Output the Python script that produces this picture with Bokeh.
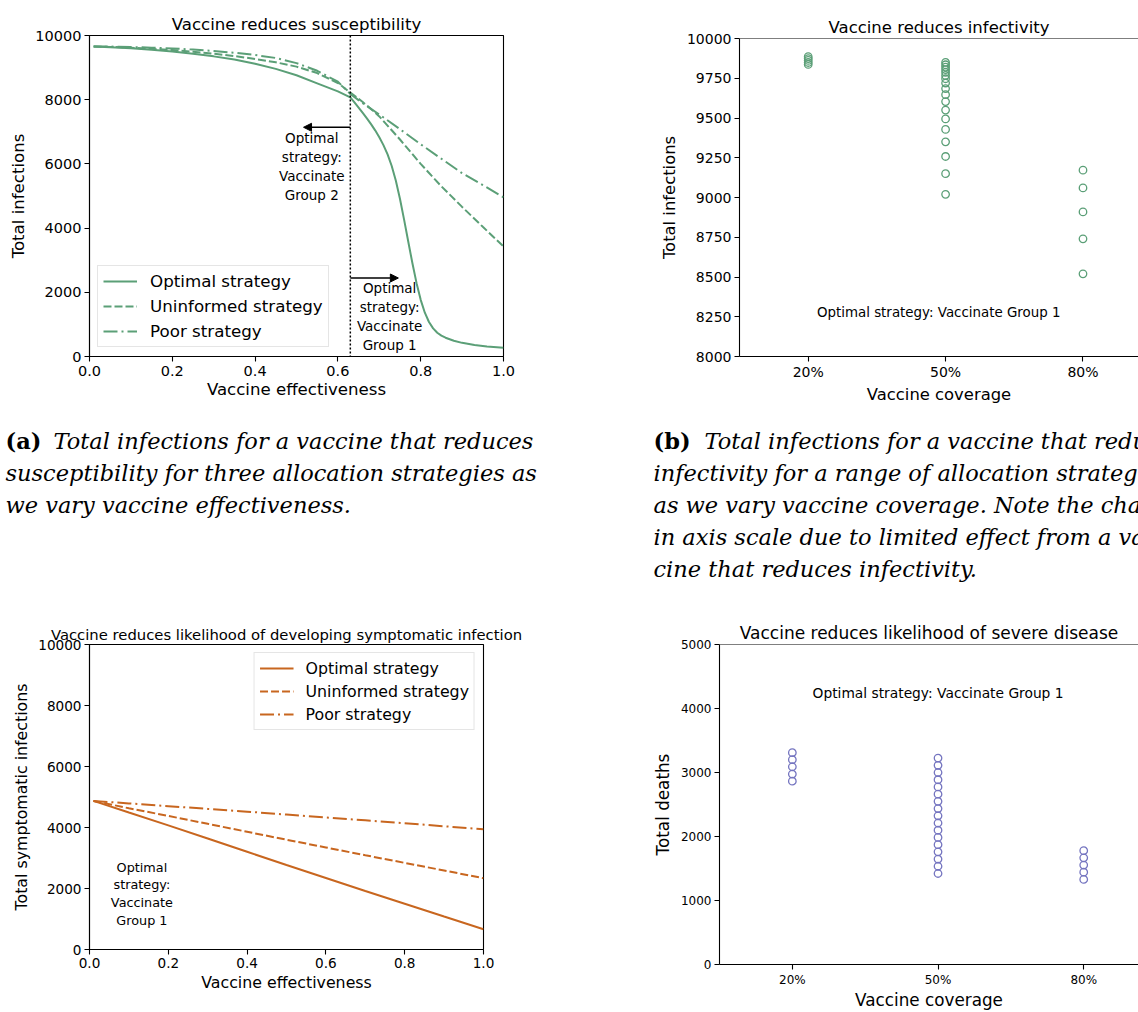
from bokeh.plotting import figure
from bokeh.layouts import column, row
from bokeh.models import Range1d, FixedTicker, Span, Arrow, NormalHead, Title
from bokeh.core.properties import value
from bokeh.embed import file_html
from bokeh.resources import INLINE

FONT = "DejaVu Sans"
SERIF = "DejaVu Serif"
GREEN = "#5b9f77"
ORANGE = "#c8661f"
PURPLE = "#7575c0"

# ---------------- data ----------------
# (a) vaccine reduces susceptibility
eff_opt_a = [0.01, 0.05, 0.1, 0.15, 0.2, 0.25, 0.3, 0.35, 0.4, 0.45, 0.5, 0.55, 0.6, 0.63,
             0.64, 0.65, 0.66, 0.67, 0.68, 0.69, 0.7, 0.71, 0.72, 0.73, 0.74, 0.75, 0.76,
             0.77, 0.78, 0.79, 0.8, 0.81, 0.82, 0.83, 0.84, 0.85, 0.86, 0.88, 0.9, 0.93,
             0.96, 1.0]
opt_a = [9660, 9635, 9600, 9555, 9500, 9430, 9350, 9250, 9120, 8960, 8760, 8510, 8260, 8070,
         7915, 7755, 7590, 7420, 7240, 7045, 6830, 6585, 6295, 5935, 5475, 4905, 4255,
         3575, 2905, 2285, 1765, 1365, 1075, 875, 740, 650, 585, 490, 425, 360,
         315, 275]
eff_alt_a = [0.01, 0.05, 0.1, 0.15, 0.2, 0.25, 0.3, 0.35, 0.4, 0.45, 0.5, 0.55, 0.6, 0.63,
             0.66, 0.7, 0.75, 0.8, 0.85, 0.9, 0.95, 1.0]
uni_a = [9660, 9645, 9620, 9585, 9545, 9495, 9435, 9360, 9270, 9165, 9030, 8830, 8520, 8220,
         7930, 7480, 6760, 6000, 5300, 4660, 4040, 3430]
poor_a = [9660, 9655, 9642, 9622, 9597, 9562, 9517, 9462, 9392, 9300, 9140, 8900, 8560, 8180,
          7890, 7540, 7080, 6610, 6160, 5710, 5340, 4960]
switch_eff = 0.63

# (b) vaccine reduces infectivity
coverage = ["20%", "50%", "80%"]
inf_20 = [9886, 9874, 9862, 9849, 9837]
inf_50 = [9850, 9835, 9820, 9804, 9787, 9768, 9747, 9720, 9685, 9647, 9603, 9550,
          9494, 9428, 9350, 9258, 9150, 9020]
inf_80 = [9172, 9060, 8909, 8740, 8520]

# (c) vaccine reduces likelihood of symptomatic infection
eff_c = [0.01, 0.1, 0.2, 0.3, 0.4, 0.5, 0.6, 0.7, 0.8, 0.9, 1.0]
opt_c = [4872, 4490, 4070, 3640, 3205, 2770, 2345, 1920, 1500, 1080, 666]
uni_c = [4872, 4630, 4380, 4120, 3860, 3600, 3345, 3090, 2840, 2590, 2338]
poor_c = [4872, 4790, 4700, 4610, 4520, 4425, 4330, 4235, 4140, 4040, 3944]

# (d) vaccine reduces likelihood of severe disease
deaths_20 = [3310, 3200, 3090, 2975, 2865]
deaths_50 = [3225, 3112, 3000, 2887, 2774, 2662, 2549, 2436, 2324, 2211, 2098, 1985,
             1873, 1760, 1647, 1535, 1422]
deaths_80 = [1779, 1667, 1554, 1442, 1330]

eff_ticks = [0.0, 0.2, 0.4, 0.6, 0.8, 1.0]
legend_labels = ["Optimal strategy", "Uninformed strategy", "Poor strategy"]

cap_a_tag = "(a)"
cap_a_lines = ["Total infections for a vaccine that reduces",
               "susceptibility for three allocation strategies as",
               "we vary vaccine effectiveness."]
cap_b_tag = "(b)"
cap_b_lines = ["Total infections for a vaccine that reduces",
               "infectivity for a range of allocation strategies",
               "as we vary vaccine coverage. Note the change",
               "in axis scale due to limited effect from a vac-",
               "cine that reduces infectivity."]

DASHED = "8 3"
DASHDOT = "14 4 2 4"


def make_fig(w, h, xr, yr, bl, br, bt, bb):
    p = figure(width=w, height=h, x_range=xr, y_range=yr, output_backend="svg",
               toolbar_location=None, min_border_left=bl, min_border_right=br,
               min_border_top=bt, min_border_bottom=bb)
    p.frame_align = False
    p.xgrid.visible = False
    p.ygrid.visible = False
    p.background_fill_color = "white"
    p.border_fill_color = "white"
    return p


def style_axes(p, tick_size, label_size, x_standoff, y_standoff, x_lab_off, y_lab_off):
    for ax in p.axis:
        ax.axis_line_color = "black"
        ax.axis_line_width = 1.1
        ax.major_tick_line_color = "black"
        ax.major_tick_line_width = 1.1
        ax.major_tick_out = 5
        ax.major_tick_in = 0
        ax.minor_tick_line_color = None
        ax.major_label_text_font = FONT
        ax.major_label_text_font_size = tick_size
        ax.major_label_text_color = "black"
        ax.axis_label_text_font = FONT
        ax.axis_label_text_font_style = "normal"
        ax.axis_label_text_font_size = label_size
        ax.axis_label_text_color = "black"
    p.xaxis.major_label_standoff = x_standoff
    p.yaxis.major_label_standoff = y_standoff
    p.xaxis.axis_label_standoff = x_lab_off
    p.yaxis.axis_label_standoff = y_lab_off


def set_title(p, text, size, standoff, offset=0):
    p.title.text = text
    p.title.align = "center"
    p.title.text_font = FONT
    p.title.text_font_size = size
    p.title.text_font_style = "normal"
    p.title.text_color = "black"
    p.title.standoff = standoff
    p.title.offset = offset


def style_legend(p, size, standoff, spacing):
    lg = p.legend[0]
    lg.label_text_font = FONT
    lg.label_text_font_size = size
    lg.label_text_color = "black"
    lg.glyph_width = 34
    lg.glyph_height = 20
    lg.label_height = 20
    lg.label_standoff = standoff
    lg.padding = 5
    lg.spacing = spacing
    lg.border_line_color = "#cccccc"
    lg.border_line_width = 1
    lg.background_fill_alpha = 0.85


# ---------------- (a) ----------------
pa = make_fig(598, 406, Range1d(0, 1), Range1d(0, 10000), 89, 95, 35, 50)
pa.outline_line_color = "black"
pa.outline_line_width = 1.1
pa.line(eff_opt_a, opt_a, color=GREEN, line_width=2, legend_label=legend_labels[0])
pa.line(eff_alt_a, uni_a, color=GREEN, line_width=2, line_dash=DASHED, legend_label=legend_labels[1])
pa.line(eff_alt_a, poor_a, color=GREEN, line_width=2, line_dash=DASHDOT, legend_label=legend_labels[2])
pa.add_layout(Span(location=switch_eff, dimension="height", line_color="black",
                   line_width=1.5, line_dash="2 2"))
pa.add_layout(Arrow(end=NormalHead(size=8, fill_color="black", line_color="black", line_width=1),
                    x_start=switch_eff, y_start=7141, x_end=0.517, y_end=7141,
                    line_color="black", line_width=1.5))
pa.add_layout(Arrow(end=NormalHead(size=8, fill_color="black", line_color="black", line_width=1),
                    x_start=switch_eff, y_start=2445, x_end=0.746, y_end=2445,
                    line_color="black", line_width=1.5))
pa.text(x=[0.537], y=[5931], text=["Optimal\nstrategy:\nVaccinate\nGroup 2"],
        text_font=value(FONT), text_font_size="13.5px", text_align="center",
        text_baseline="middle", text_line_height=1.185, text_color="black")
pa.text(x=[0.725], y=[1238], text=["Optimal\nstrategy:\nVaccinate\nGroup 1"],
        text_font=value(FONT), text_font_size="13.5px", text_align="center",
        text_baseline="middle", text_line_height=1.185, text_color="black")
pa.xaxis.ticker = FixedTicker(ticks=eff_ticks)
pa.xaxis.major_label_overrides = {t: f"{t:.1f}" for t in eff_ticks}
pa.yaxis.ticker = FixedTicker(ticks=[0, 2000, 4000, 6000, 8000, 10000])
pa.xaxis.axis_label = "Vaccine effectiveness"
pa.yaxis.axis_label = "Total infections"
style_axes(pa, "14.5px", "16.6px", 4, 3, 1, 4)
set_title(pa, "Vaccine reduces susceptibility", "16.6px", 3)
style_legend(pa, "16.7px", 13, 5)
pa.legend.location = (8, 9)
pa.legend.margin = 0

# ---------------- (b) ----------------
pb = make_fig(540, 406, Range1d(-0.5, 2.404), Range1d(8000, 10000), 141, 0, 38, 50)
pb.outline_line_color = None
for i, vals in enumerate([inf_20, inf_50, inf_80]):
    pb.scatter([i] * len(vals), vals, marker="circle", size=7.5, fill_color=None,
               line_color=GREEN, line_width=1.3)
pb.add_layout(Span(location=10000, dimension="width", line_color="black", line_width=1.1))
pb.text(x=[0.95], y=[8276], text=["Optimal strategy: Vaccinate Group 1"],
        text_font=value(FONT), text_font_size="13.4px", text_align="center",
        text_baseline="middle", text_color="black")
pb.xaxis.ticker = FixedTicker(ticks=list(range(len(coverage))))
pb.xaxis.major_label_overrides = {i: c for i, c in enumerate(coverage)}
pb.yaxis.ticker = FixedTicker(ticks=[8000, 8250, 8500, 8750, 9000, 9250, 9500, 9750, 10000])
pb.yaxis.axis_label = "Total infections"
style_axes(pb, "14px", "16.4px", 2, 3, 0, 5)
set_title(pb, "Vaccine reduces infectivity", "16.5px", 3, 6)
pb.add_layout(Title(text="Vaccine coverage", align="center", offset=7, standoff=0,
                    text_font=FONT, text_font_size="16.4px", text_font_style="normal",
                    text_color="black"), "below")

# ---------------- captions ----------------
pcap = figure(width=1138, height=202, x_range=Range1d(0, 1138), y_range=Range1d(202, 0),
              output_backend="svg", toolbar_location=None, min_border=0)
pcap.frame_align = False
pcap.axis.visible = False
pcap.xgrid.visible = False
pcap.ygrid.visible = False
pcap.outline_line_color = None
pcap.background_fill_color = "white"
pcap.border_fill_color = "white"
CAP_SIZE = "22.5px"
base0 = 34
lh = 32
pcap.text(x=[5, 653], y=[base0, base0], text=[cap_a_tag, cap_b_tag], text_font=value(SERIF),
          text_font_style="bold", text_font_size=CAP_SIZE, text_baseline="alphabetic",
          text_color="black")
ax_ = [53] + [5] * (len(cap_a_lines) - 1)
ay_ = [base0 + lh * i for i in range(len(cap_a_lines))]
bx_ = [704] + [653] * (len(cap_b_lines) - 1)
by_ = [base0 + lh * i for i in range(len(cap_b_lines))]
pcap.text(x=ax_ + bx_, y=ay_ + by_, text=cap_a_lines + cap_b_lines, text_font=value(SERIF),
          text_font_style="italic", text_font_size=CAP_SIZE, text_baseline="alphabetic",
          text_color="black")

# ---------------- (c) ----------------
pc = make_fig(578, 404, Range1d(0, 1), Range1d(0, 10000), 89, 95, 36, 63)
pc.outline_line_color = "black"
pc.outline_line_width = 1.1
pc.line(eff_c, opt_c, color=ORANGE, line_width=2, legend_label=legend_labels[0])
pc.line(eff_c, uni_c, color=ORANGE, line_width=2, line_dash=DASHED, legend_label=legend_labels[1])
pc.line(eff_c, poor_c, color=ORANGE, line_width=2, line_dash=DASHDOT, legend_label=legend_labels[2])
pc.text(x=[0.133], y=[1833], text=["Optimal\nstrategy:\nVaccinate\nGroup 1"],
        text_font=value(FONT), text_font_size="12.8px", text_align="center",
        text_baseline="middle", text_line_height=1.18, text_color="black")
pc.xaxis.ticker = FixedTicker(ticks=eff_ticks)
pc.xaxis.major_label_overrides = {t: f"{t:.1f}" for t in eff_ticks}
pc.yaxis.ticker = FixedTicker(ticks=[0, 2000, 4000, 6000, 8000, 10000])
pc.xaxis.axis_label = "Vaccine effectiveness"
pc.yaxis.axis_label = "Total symptomatic infections"
style_axes(pc, "13.6px", "15.8px", 3, 3, 2, 4)
set_title(pc, "Vaccine reduces likelihood of developing symptomatic infection", "14.8px", 4)
style_legend(pc, "15.8px", 12, 3)
pc.legend.location = "top_right"
pc.legend.margin = 8

# ---------------- (d) ----------------
pd_ = make_fig(560, 404, Range1d(-0.5, 2.376), Range1d(0, 5000), 141, 0, 36, 42)
pd_.outline_line_color = None
for i, vals in enumerate([deaths_20, deaths_50, deaths_80]):
    pd_.scatter([i] * len(vals), vals, marker="circle", size=7.5, fill_color=None,
                line_color=PURPLE, line_width=1.3)
pd_.add_layout(Span(location=5000, dimension="width", line_color="black", line_width=1.1))
pd_.text(x=[1.0], y=[4240], text=["Optimal strategy: Vaccinate Group 1"],
         text_font=value(FONT), text_font_size="13.8px", text_align="center",
         text_baseline="middle", text_color="black")
pd_.xaxis.ticker = FixedTicker(ticks=list(range(len(coverage))))
pd_.xaxis.major_label_overrides = {i: c for i, c in enumerate(coverage)}
pd_.yaxis.ticker = FixedTicker(ticks=[0, 1000, 2000, 3000, 4000, 5000])
pd_.xaxis.axis_label = "Vaccine coverage"
pd_.yaxis.axis_label = "Total deaths"
style_axes(pd_, "12px", "16.8px", 3, 3, 0, 5)
set_title(pd_, "Vaccine reduces likelihood of severe disease", "17px", 4)

layout = column(row(pa, pb), pcap, row(pc, pd_))
open("out.html", "w").write(file_html(layout, INLINE))
